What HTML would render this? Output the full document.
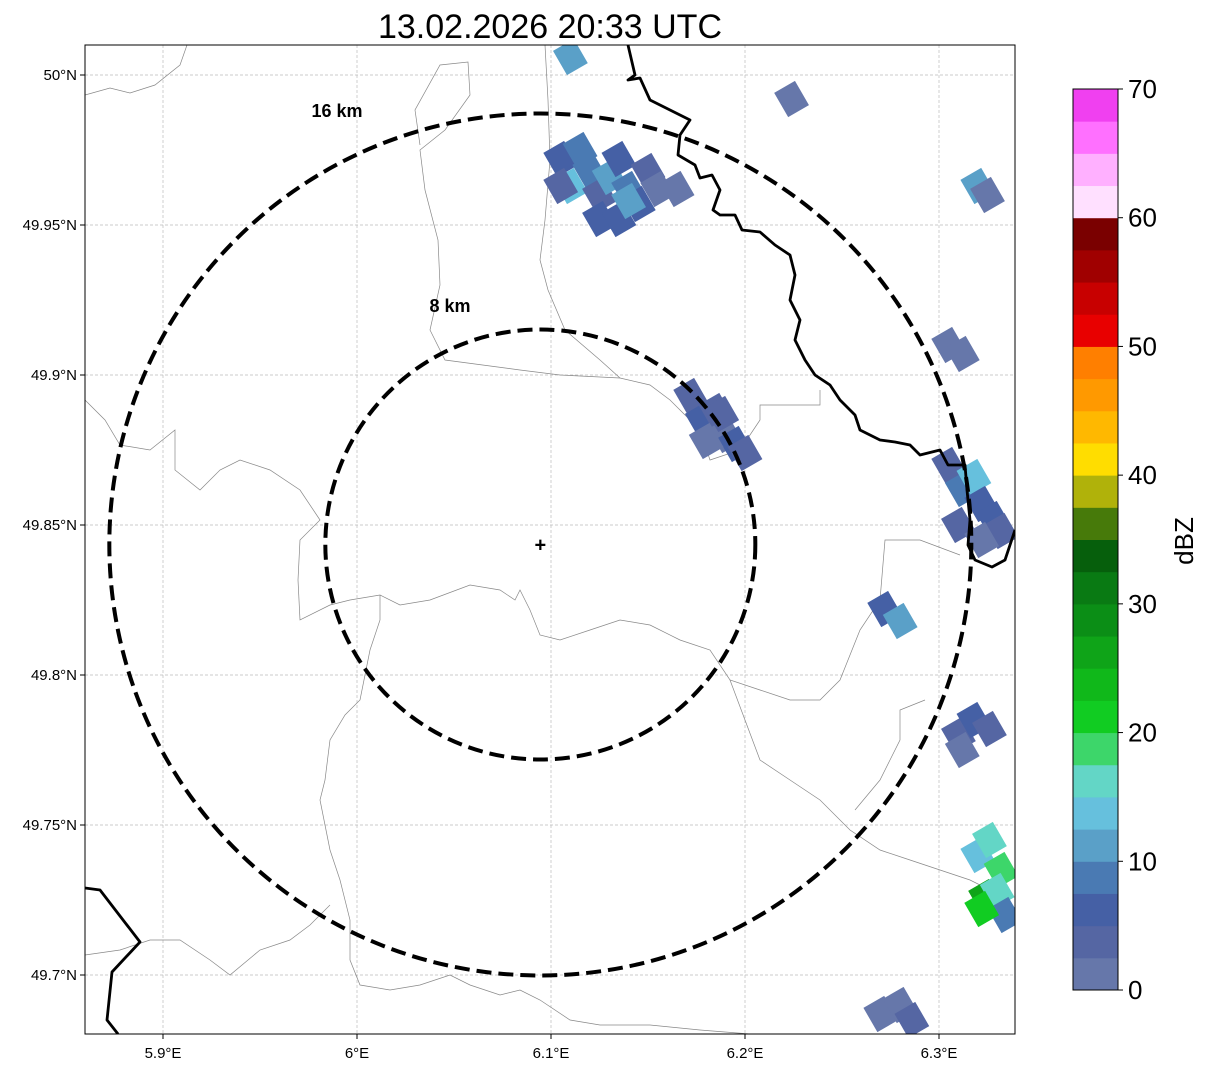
<!DOCTYPE html>
<html><head><meta charset="utf-8"><style>
body{margin:0;background:#fff;width:1207px;height:1069px;overflow:hidden;font-family:"Liberation Sans",sans-serif}
</style></head><body>
<svg id="chart" width="1207" height="1069" xmlns="http://www.w3.org/2000/svg" font-family="Liberation Sans, sans-serif">
<text x="550" y="38" font-size="34" text-anchor="middle">13.02.2026 20:33 UTC</text>
<g id="map"></g>
<g id="cbar"></g>
</svg>
<script>
const lonTicks=[5.9,6.0,6.1,6.2,6.3];
const lonLabels=["5.9°E","6°E","6.1°E","6.2°E","6.3°E"];
const latTicks=[50.0,49.95,49.9,49.85,49.8,49.75,49.7];
const latLabels=["50°N","49.95°N","49.9°N","49.85°N","49.8°N","49.75°N","49.7°N"];
const cbTicks=[0,10,20,30,40,50,60,70];
const cbColors=["#6677aa","#5566a3","#4560a5","#4a7ab3","#5aa0c8","#66c0dd","#63d6c6","#3dd66a","#11cc22","#10b81a","#0fa418","#0b8e16","#097a13","#065f0c","#477a0a","#b0b20a","#ffdd00","#ffb800","#ff9900","#ff7f00","#e80000","#c80000","#a00000","#7a0000","#ffe0ff","#ffb0ff","#ff70ff","#f040f0"];
// radar cells: lon, lat, dBZ
const cellLon=[6.105,6.11,6.115,6.12,6.125,6.13,6.135,6.14,6.145,6.15,6.155,6.125,6.135,6.14,6.105,6.165,
6.172,6.178,6.185,6.19,6.195,6.2,6.18,6.188,
6.305,6.312,6.318,6.322,6.328,6.332,6.31,6.322,
6.272,6.28,6.31,6.318,6.326,6.312,
6.32,6.326,6.332,6.324,6.33,6.334,6.322,
6.27,6.28,6.286,6.305,6.312,6.32,6.325,6.224,6.11];
const cellLat=[49.972,49.963,49.975,49.968,49.96,49.966,49.972,49.962,49.957,49.968,49.962,49.952,49.952,49.958,49.963,49.962,
49.893,49.885,49.888,49.88,49.877,49.874,49.878,49.887,
49.87,49.862,49.866,49.857,49.852,49.848,49.85,49.845,
49.822,49.818,49.78,49.785,49.782,49.775,
49.74,49.745,49.735,49.726,49.728,49.72,49.722,
49.687,49.69,49.685,49.91,49.907,49.963,49.96,49.992,50.006];
const cellVal=[5,13,8,9,4,12,6,8,5,3,2,7,5,10,3,1,
3,5,4,2,6,3,1,4,
3,8,14,6,5,3,4,2,
5,10,3,6,4,2,
13,17,18,26,15,8,20,
1,2,3,2,1,12,2,1,12];
const NS="http://www.w3.org/2000/svg";
const X0=85,X1=1015,Y0=45,Y1=1034;
const xs=lon=>163+(lon-5.9)*1940;
const ys=lat=>75+(50-lat)*3000;
function mk(tag,attrs,parent){const e=document.createElementNS(NS,tag);for(const k in attrs)e.setAttribute(k,attrs[k]);parent.appendChild(e);return e;}
const map=document.getElementById('map');
const defs=mk('defs',{},map);
const cp=mk('clipPath',{id:'clip'},defs);
mk('rect',{x:X0,y:Y0,width:X1-X0,height:Y1-Y0},cp);
const inner=mk('g',{'clip-path':'url(#clip)'},map);


lonTicks.forEach((t,i)=>{const l=mk('line',{x1:xs(t),x2:xs(t),y1:Y0,y2:Y1,stroke:'#bbb','stroke-width':0.7,'stroke-dasharray':'3,2'},inner);
});
latTicks.forEach((t,i)=>{const l=mk('line',{x1:X0,x2:X1,y1:ys(t),y2:ys(t),stroke:'#bbb','stroke-width':0.7,'stroke-dasharray':'3,2'},inner);
});
const thin=[
"M85,95 L110,88 L130,93 L155,85 L180,65 L187,45",
"M420,145 L415,110 L440,65 L468,62 L470,95 L445,130 L420,150 L425,190 L438,240 L440,285 L430,330 L445,360 L520,370 L560,375 L620,378 L650,385 L670,400 L690,420 L705,445 L710,460 L740,450 L760,420 L760,405 L820,405 L820,390",
"M545,45 L548,100 L550,160 L545,220 L540,260 L548,290 L565,330 L600,360 L620,378",
"M85,400 L105,420 L120,445 L150,450 L175,430 L175,470 L200,490 L220,470 L240,460 L270,470 L300,490 L320,520 L300,540 L298,580 L300,620 L330,605 L350,600 L380,595 L400,605 L430,600 L470,585 L500,590 L515,600 L520,590 L530,610 L540,635 L560,640 L590,630 L620,620 L650,625 L680,640 L710,650 L730,680 L760,690 L790,700 L820,700 L840,680 L860,630 L880,600 L885,540 L920,540 L960,555",
"M380,595 L380,620 L370,650 L360,700 L345,715 L330,740 L325,780 L320,800 L330,850 L340,880 L350,920 L350,960 L360,985 L390,990 L420,985 L450,975 L470,985 L500,995 L520,990 L540,1000 L570,1020 L600,1025 L650,1025 L700,1030 L750,1034",
"M85,955 L120,950 L150,940 L180,940 L210,960 L230,975 L260,950 L290,940 L310,925 L330,905",
"M730,680 L760,760 L790,780 L820,800 L850,830 L880,850 L910,860 L940,870 L970,880 L1000,895",
"M855,810 L880,780 L900,740 L900,710 L925,700"
];
thin.forEach(d=>{const p=mk('path',{d:d,fill:'none',stroke:'#888','stroke-width':0.7},inner);
});
cellLon.forEach((lon,i)=>{const v=cellVal[i];const c=cbColors[Math.max(0,Math.min(27,Math.floor(v/2.5)))];
const x=xs(lon),y=ys(cellLat[i]);
const r=mk('rect',{x:x-12,y:y-14,width:24,height:28,fill:c,transform:`rotate(-30 ${x} ${y})`},inner);
});
const thick=[
"M628,45 L635,75 L628,80 L640,78 L650,100 L690,120 L680,135 L678,155 L695,165 L700,178 L712,175 L720,190 L713,210 L720,215 L735,215 L742,230 L760,232 L775,245 L790,255 L795,275 L790,300 L800,320 L795,340 L805,360 L815,375 L830,385 L840,400 L855,415 L860,430 L880,440 L895,442 L910,445 L920,455 L940,450 L948,465 L965,465 L967,490 L970,520 L968,545 L975,560 L992,567 L1005,560 L1015,530",
"M85,888 L100,890 L140,942 L112,972 L107,1020 L118,1034"
];
thick.forEach(d=>{const p=mk('path',{d:d,fill:'none',stroke:'#000','stroke-width':2.8,'stroke-linejoin':'round'},inner);
});
const cx=xs(6.0945),cy=ys(49.8435);
[[215,'8 km',450,312],[431,'16 km',337,117]].forEach(([r,lab,lx,ly])=>{
const c=mk('circle',{cx:cx,cy:cy,r:r,fill:'none',stroke:'#000','stroke-width':4,'stroke-dasharray':'15,7'},inner);

const t=mk('text',{x:lx,y:ly,'font-size':18,'font-weight':'bold','text-anchor':'middle'},inner);t.textContent=lab;
});
const m=mk('text',{x:cx,y:cy+7,'font-size':20,'font-weight':'bold','text-anchor':'middle'},inner);m.textContent='+';

const fr=mk('rect',{x:X0,y:Y0,width:X1-X0,height:Y1-Y0,fill:'none',stroke:'#000','stroke-width':1},map);

lonTicks.forEach((t,i)=>{mk('line',{x1:xs(t),x2:xs(t),y1:Y1,y2:Y1+5,stroke:'#000'},map);
const tx=mk('text',{x:xs(t),y:1058,'font-size':15,'text-anchor':'middle'},map);tx.textContent=lonLabels[i];
});
latTicks.forEach((t,i)=>{mk('line',{x1:X0-5,x2:X0,y1:ys(t),y2:ys(t),stroke:'#000'},map);
const tx=mk('text',{x:77,y:ys(t)+5,'font-size':15,'text-anchor':'end'},map);tx.textContent=latLabels[i];
});
const cb=document.getElementById('cbar');
const CB0=990,CB1=89,CX=1073,CW=45;
const cys=v=>CB0-(v/70)*(CB0-CB1);
cbColors.forEach((c,i)=>{const r=mk('rect',{x:CX,y:cys((i+1)*2.5),width:CW,height:cys(i*2.5)-cys((i+1)*2.5)+0.5,fill:c},cb);
});
const cbf=mk('rect',{x:CX,y:CB1,width:CW,height:CB0-CB1,fill:'none',stroke:'#000','stroke-width':1},cb);

cbTicks.forEach(v=>{mk('line',{x1:CX+CW,x2:CX+CW+5,y1:cys(v),y2:cys(v),stroke:'#000'},cb);
const t=mk('text',{x:CX+CW+10,y:cys(v)+9,'font-size':26},cb);t.textContent=v;
});
const u=mk('text',{x:1193,y:541,'font-size':26,'text-anchor':'middle',transform:'rotate(-90 1193 541)'},cb);u.textContent='dBZ';

</script>
</body></html>
